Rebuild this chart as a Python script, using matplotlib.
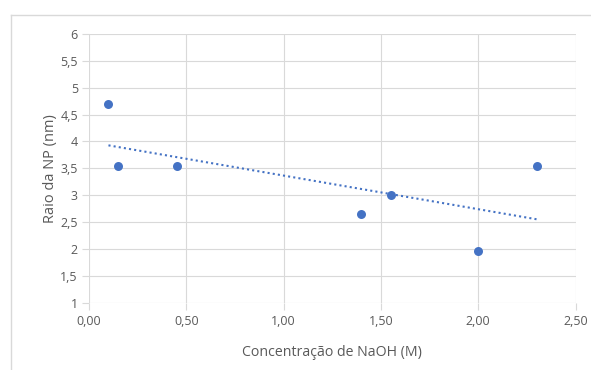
import numpy as np
import matplotlib.pyplot as plt
from matplotlib.lines import Line2D

# dados
concentracao = [0.10, 0.15, 0.45, 1.40, 1.55, 2.00, 2.30]
raio = [4.70, 3.55, 3.55, 2.65, 3.00, 1.95, 3.55]

x_ticks = [0.0, 0.5, 1.0, 1.5, 2.0, 2.5]
y_ticks = [1, 1.5, 2, 2.5, 3, 3.5, 4, 4.5, 5, 5.5, 6]

azul = "#4472C4"
cinza = "#d9d9d9"
texto = "#595959"

plt.rcParams['font.family'] = ['Open Sans', 'DejaVu Sans']

W, H = 591, 370
fig = plt.figure(figsize=(W / 100, H / 100), dpi=100)
ax = fig.add_axes([89 / W, 1 - 302.5 / H, (575.5 - 89) / W, (302.5 - 34) / H])

# moldura do grafico (esquerda e topo)
fig.add_artist(Line2D([11 / W, 11 / W], [0, 1 - 15 / H], transform=fig.transFigure, color=cinza, lw=1))
fig.add_artist(Line2D([11 / W, 590 / W], [1 - 15 / H, 1 - 15 / H], transform=fig.transFigure, color=cinza, lw=1))

ax.scatter(concentracao, raio, s=42, color=azul, zorder=3, linewidths=0)

# linha de tendencia linear
a, b = np.polyfit(concentracao, raio, 1)
xt = np.array([min(concentracao), max(concentracao)])
ax.plot(xt, a * xt + b, color=azul, lw=1.5, linestyle=(0, (1, 1.5)), zorder=2)

ax.set_xlim(0, 2.5)
ax.set_ylim(1, 6)
ax.set_xticks(x_ticks)
ax.set_yticks(y_ticks)
ax.set_xticklabels([f"{v:.2f}".replace(".", ",") for v in x_ticks])
ax.set_yticklabels([f"{v:g}".replace(".", ",") for v in y_ticks])

ax.grid(True, color=cinza, lw=0.8)
ax.set_axisbelow(True)
for s in ax.spines.values():
    s.set_visible(False)
ax.tick_params(axis='both', colors=cinza, labelcolor=texto, labelsize=9, length=5, width=0.8)
ax.tick_params(axis='x', pad=4)
ax.tick_params(axis='y', pad=3)

ax.set_xlabel("Concentração de NaOH (M)", fontsize=10.2, color=texto, labelpad=12)
ax.set_ylabel("Raio da NP (nm)", fontsize=10.5, color=texto, labelpad=1.5)

fig.savefig("out.png", dpi=100)
